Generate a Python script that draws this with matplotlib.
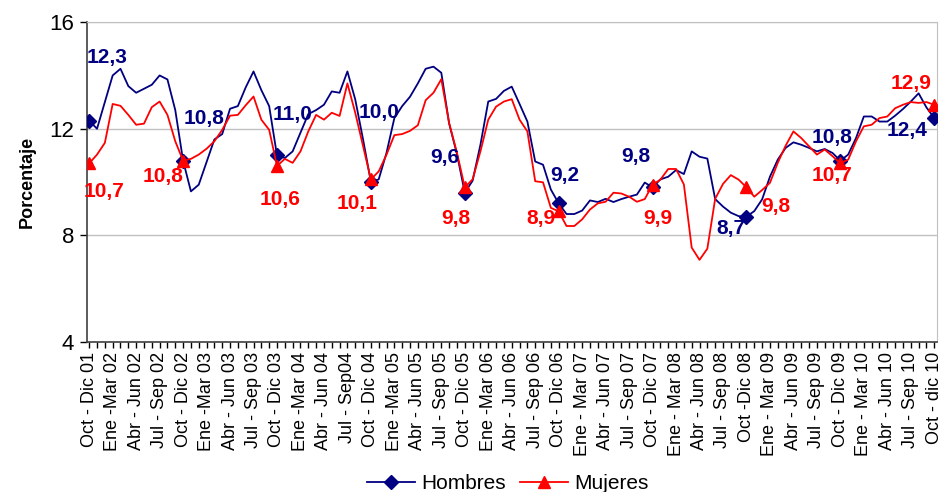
import numpy as np
import matplotlib.pyplot as plt
from matplotlib.lines import Line2D

plt.rcParams['font.family'] = ['Liberation Sans', 'DejaVu Sans']

# trimestres móviles, etiqueta cada 3 meses
periodos = [
    "Oct - Dic 01", "Ene -Mar 02", "Abr - Jun 02", "Jul - Sep 02",
    "Oct - Dic 02", "Ene -Mar 03", "Abr - Jun 03", "Jul - Sep 03",
    "Oct - Dic 03", "Ene -Mar 04", "Abr - Jun 04", "Jul - Sep04",
    "Oct - Dic 04", "Ene -Mar 05", "Abr - Jun 05", "Jul - Sep 05",
    "Oct - Dic 05", "Ene -Mar 06", "Abr - Jun 06", "Jul - Sep 06",
    "Oct - Dic 06", "Ene - Mar 07", "Abr - Jun 07", "Jul - Sep 07",
    "Oct - Dic 07", "Ene - Mar 08", "Abr - Jun 08", "Jul - Sep 08",
    "Oct -Dic 08", "Ene - Mar 09", "Abr - Jun 09", "Jul - Sep 09",
    "Oct - Dic 09", "Ene - Mar 10", "Abr - Jun 10", "Jul - Sep 10",
    "Oct - dic 10",
]

hombres = [
    12.3, 12.0, 13.0, 14.0, 14.25, 13.6, 13.35, 13.5, 13.65, 14.0, 13.85, 12.7,
    10.8, 9.65, 9.9, 10.75, 11.6, 11.8, 12.75, 12.85, 13.55, 14.15, 13.45, 12.85,
    11.0, 10.9, 11.15, 11.85, 12.55, 12.7, 12.9, 13.4, 13.35, 14.15, 13.1, 11.6,
    10.0, 10.1, 11.1, 12.4, 12.85, 13.2, 13.7, 14.25, 14.33, 14.1, 12.2, 11.05,
    9.6, 10.05, 11.4, 13.02, 13.12, 13.42, 13.58, 12.93, 12.27, 10.77, 10.65, 9.72,
    9.2, 8.8, 8.8, 8.93, 9.31, 9.25, 9.37, 9.25, 9.36, 9.45, 9.53, 9.98,
    9.8, 10.1, 10.2, 10.45, 10.3, 11.15, 10.95, 10.88, 9.36, 9.08, 8.85, 8.72,
    8.7, 8.91, 9.35, 10.2, 10.84, 11.28, 11.49, 11.4, 11.28, 11.15, 11.24, 11.09,
    10.8, 11.03, 11.65, 12.46, 12.46, 12.27, 12.27, 12.49, 12.74, 13.02, 13.33, 12.8,
    12.4,
]

mujeres = [
    10.7, 11.03, 11.47, 12.93, 12.86, 12.52, 12.15, 12.19, 12.81, 13.02, 12.52, 11.53,
    10.8, 10.87, 11.03, 11.25, 11.53, 11.96, 12.49, 12.52, 12.88, 13.21, 12.34, 11.96,
    10.6, 10.87, 10.72, 11.15, 11.9, 12.52, 12.34, 12.6, 12.48, 13.7, 12.6, 11.35,
    10.1, 10.4, 11.03, 11.76, 11.8, 11.92, 12.13, 13.07, 13.35, 13.86, 12.21, 11.1,
    9.8, 10.1, 11.15, 12.34, 12.83, 13.02, 13.11, 12.34, 11.9, 10.03, 9.99, 9.03,
    8.9, 8.35, 8.35, 8.6, 8.97, 9.2, 9.26, 9.6, 9.57, 9.45, 9.26, 9.36,
    9.9, 10.09, 10.49, 10.49, 9.91, 7.54, 7.08, 7.5, 9.37, 9.93, 10.26, 10.09,
    9.8, 9.45, 9.7, 9.97, 10.72, 11.36, 11.9, 11.65, 11.34, 11.03, 11.22, 10.97,
    10.7, 10.84, 11.53, 12.09, 12.15, 12.4, 12.46, 12.77, 12.9, 13.0, 12.97, 13.0,
    12.9,
]

# etiquetas de los trimestres Oct-Dic (cada 12 puntos)
etiq_h = ["12,3", "10,8", "11,0", "10,0", "9,6", "9,2", "9,8", "8,7", "10,8", "12,4"]
etiq_m = ["10,7", "10,8", "10,6", "10,1", "9,8", "8,9", "9,9", "9,8", "10,7", "12,9"]

# desplazamiento de cada etiqueta en pixeles (x, y hacia arriba)
off_h = [(18, 63), (21, 42), (16, 41), (8, 70), (-20, 35),
         (6, 28), (-17, 31), (-16, -12), (-8, 23), (-27, -12)]
off_m = [(15, -28), (-20, -16), (3, -33), (-14, -24), (-9, -31),
         (-18, -7), (5, -34), (29, -19), (-8, -12), (-23, 21)]

AZUL = "#000080"
ROJO = "#FF0000"

x = np.arange(len(hombres))
anual = x[::12]

fig = plt.figure(figsize=(9.44, 4.92), dpi=100)
ax = fig.add_axes([0.092, 0.305, 0.901, 0.65])

ax.plot(x, hombres, color=AZUL, lw=1.3, marker="D", markersize=7,
        markevery=12, zorder=3)
ax.plot(x, mujeres, color=ROJO, lw=1.3, marker="^", markersize=9,
        markevery=12, zorder=4)

for k, i in enumerate(anual):
    ax.annotate(etiq_h[k], (i, hombres[i]), xytext=off_h[k],
                textcoords="offset pixels", ha="center", va="center",
                color=AZUL, fontsize=15, fontweight="bold", zorder=5)
    ax.annotate(etiq_m[k], (i, mujeres[i]), xytext=off_m[k],
                textcoords="offset pixels", ha="center", va="center",
                color=ROJO, fontsize=15, fontweight="bold", zorder=5)

ax.set_ylim(4, 16)
ax.set_yticks([4, 8, 12, 16])
ax.set_xlim(-0.3, 108.4)
ax.set_xticks(x[::3])
ax.set_xticks(x, minor=True)
ax.set_xticklabels(periodos, rotation=90, fontsize=13)
ax.tick_params(axis="x", which="both", length=4, width=1, direction="out", pad=3)
ax.tick_params(axis="y", length=5, width=1, labelsize=16, pad=4)

ax.grid(axis="y", color="#C0C0C0", lw=1)
ax.set_axisbelow(True)
for s in ("top", "right"):
    ax.spines[s].set_color("#C0C0C0")
for s in ("left", "bottom"):
    ax.spines[s].set_color("#404040")
    ax.spines[s].set_linewidth(1.2)

ax.set_ylabel("Porcentaje", fontsize=13, fontweight="bold", labelpad=10)

handles = [
    Line2D([], [], color=AZUL, lw=1.3, marker="D", markersize=7),
    Line2D([], [], color=ROJO, lw=1.3, marker="^", markersize=9),
]
fig.legend(handles, ["Hombres", "Mujeres"], loc="lower center",
           bbox_to_anchor=(0.538, -0.04), ncol=2, frameon=False,
           fontsize=15, handlelength=2.3, columnspacing=0.7, handletextpad=0.3)

fig.savefig("out.png", dpi=100)
